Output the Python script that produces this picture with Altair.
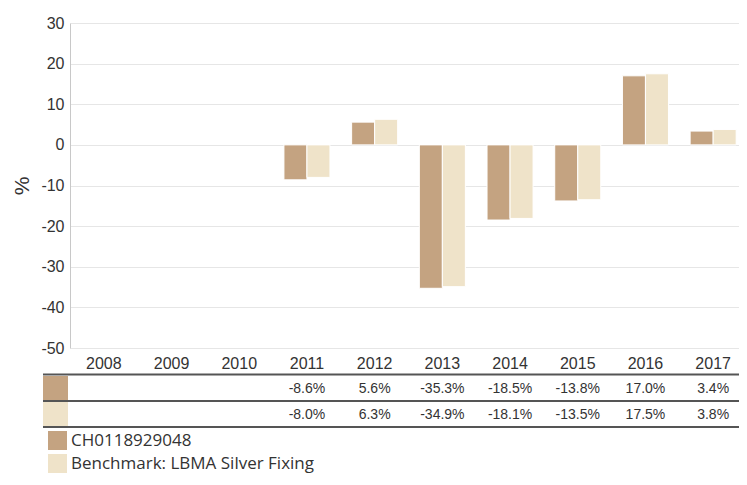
import altair as alt
import pandas as pd

years = ["2008", "2009", "2010", "2011", "2012", "2013", "2014", "2015", "2016", "2017"]
fund = [None, None, None, -8.6, 5.6, -35.3, -18.5, -13.8, 17.0, 3.4]
bench = [None, None, None, -8.0, 6.3, -34.9, -18.1, -13.5, 17.5, 3.8]
series_names = ["CH0118929048", "Benchmark: LBMA Silver Fixing"]
colors = ["#C4A381", "#EFE3C9"]
y_ticks = [-50, -40, -30, -20, -10, 0, 10, 20, 30]

rows = []
for i, y in enumerate(years):
    rows.append({"year": y, "series": series_names[0], "value": fund[i]})
    rows.append({"year": y, "series": series_names[1], "value": bench[i]})
df = pd.DataFrame(rows)
df["label"] = df["value"].map(lambda v: "" if pd.isna(v) else f"{v:.1f}%")

W, H = 669, 325
RANGE_W = 677
FONT = "Liberation Sans"
TXT = "#333333"

xscale = alt.Scale(domain=years, paddingInner=0.32, paddingOuter=0.16, range=[0, RANGE_W])

base = alt.Chart(df)

bars = base.mark_bar(stroke="white", strokeWidth=1).encode(
    x=alt.X("year:N", scale=xscale, sort=years,
            axis=alt.Axis(title=None, labelAngle=0, ticks=False, domain=False,
                          labelFontSize=16, labelColor=TXT, labelFont=FONT,
                          labelPadding=7, grid=False)),
    xOffset=alt.XOffset("series:N", sort=series_names),
    y=alt.Y("value:Q", scale=alt.Scale(domain=[-50, 30], nice=False),
            axis=alt.Axis(title="%", values=y_ticks, ticks=False, labelFontSize=16,
                          labelExpr="'' + datum.value",
                          labelColor=TXT, labelFont=FONT, labelPadding=6,
                          titleFontSize=21, titleFontWeight="normal", titleColor=TXT,
                          titleFont=FONT, titlePadding=8,
                          gridColor="#e6e6e6", domainColor="#c8c8c8")),
    color=alt.Color("series:N", sort=series_names,
                    scale=alt.Scale(domain=series_names, range=colors),
                    legend=alt.Legend(title=None, orient="none", legendX=-22, legendY=408,
                                      symbolType="square", symbolSize=361,
                                      symbolStrokeWidth=0, labelFontSize=17,
                                      labelFont="Open Sans", labelColor=TXT,
                                      rowPadding=4, labelOffset=4, padding=0,
                                      labelLimit=500)),
).transform_filter("datum.value != null")

row1 = base.transform_filter(
    alt.datum.series == series_names[0]).mark_text(
    fontSize=14, font=FONT, color=TXT, baseline="middle").encode(
    x=alt.X("year:N", scale=xscale, sort=years), y=alt.value(366), text="label:N")
row2 = base.transform_filter(
    alt.datum.series == series_names[1]).mark_text(
    fontSize=14, font=FONT, color=TXT, baseline="middle").encode(
    x=alt.X("year:N", scale=xscale, sort=years), y=alt.value(392), text="label:N")

one = alt.Chart(alt.Data(values=[{"a": 1}]))
lines = [
    one.mark_rule(color="#555555", strokeWidth=2).encode(
        x=alt.value(-27), x2=alt.value(W), y=alt.value(yy))
    for yy in (351.5, 378, 404)
]
sw1 = one.mark_rect(color=colors[0]).encode(
    x=alt.value(-27), x2=alt.value(-2), y=alt.value(353), y2=alt.value(377))
sw2 = one.mark_rect(color=colors[1]).encode(
    x=alt.value(-27), x2=alt.value(-2), y=alt.value(379), y2=alt.value(403))

chart = alt.layer(bars, row1, row2, sw1, sw2, *lines).properties(
    width=W, height=H,
    autosize=alt.AutoSizeParams(type="none"),
    padding={"left": 62, "top": 15, "right": 0, "bottom": 129},
).configure_view(stroke=None)

chart.save("out.html", embed_options={"renderer": "svg", "actions": False})
